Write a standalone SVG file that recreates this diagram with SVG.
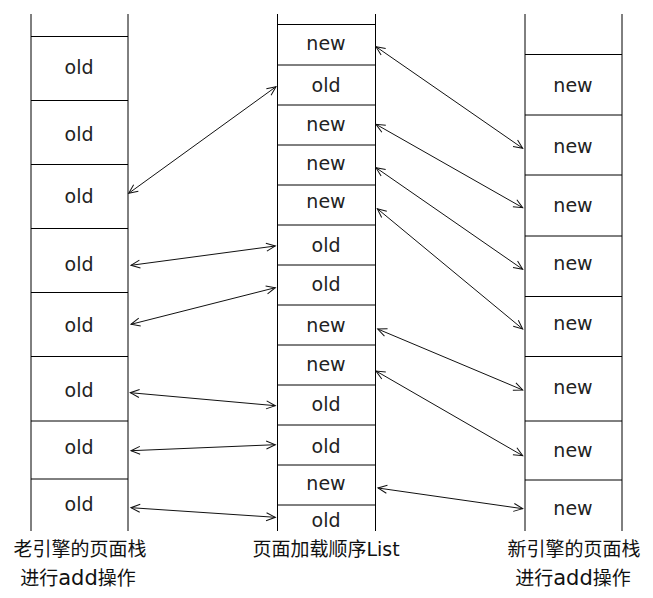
<svg xmlns="http://www.w3.org/2000/svg" width="653" height="598" viewBox="0 0 653 598">
<style>
.frame{fill:none;stroke:#000;stroke-width:1}
.cell{font-family:"DejaVu Sans","Noto Sans",sans-serif;font-size:19px;fill:#222;text-anchor:middle}
.lbl{font-family:"DejaVu Sans","Noto Sans CJK SC",sans-serif;font-size:19px;fill:#111;text-anchor:middle}
.wide{font-size:21px}
.conn{stroke:#111;stroke-width:1;fill:none;marker-start:url(#ah);marker-end:url(#ah)}
</style>
<defs>
<marker id="ah" markerUnits="userSpaceOnUse" markerWidth="12" markerHeight="12" refX="10" refY="5" orient="auto-start-reverse" viewBox="0 0 12 10">
<path d="M1,1 L10,5 L1,9" fill="none" stroke="#111" stroke-width="1"/>
</marker>
</defs>
<rect width="653" height="598" fill="#fff"/>

<g id="old-stack">
<path class="frame" d="M31,14V531M128,14V531M31,36.5H128M31,100.5H128M31,164.5H128M31,228.5H128M31,292.5H128M31,356.5H128M31,421H128M31,479H128"/>
<g id="o1"><text class="cell" x="79" y="74">old</text></g>
<g id="o2"><text class="cell" x="79" y="140.5">old</text></g>
<g id="o3"><text class="cell" x="79" y="203">old</text></g>
<g id="o4"><text class="cell" x="79" y="270.5">old</text></g>
<g id="o5"><text class="cell" x="79" y="332">old</text></g>
<g id="o6"><text class="cell" x="79" y="397">old</text></g>
<g id="o7"><text class="cell" x="79" y="454">old</text></g>
<g id="o8"><text class="cell" x="79" y="510.5">old</text></g>
<g id="old-label"><text class="lbl" x="80" y="556">老引擎的页面栈</text><text class="lbl" x="78" y="585">进行<tspan class="wide">add</tspan>操作</text></g>
</g>

<g id="load-list">
<path class="frame" d="M277.5,14V531M375.5,14V531M277.5,24.5H375.5M277.5,65H375.5M277.5,105H375.5M277.5,145H375.5M277.5,185H375.5M277.5,225H375.5M277.5,265H375.5M277.5,305H375.5M277.5,345H375.5M277.5,385H375.5M277.5,425H375.5M277.5,465H375.5M277.5,505H375.5"/>
<g id="m1"><text class="cell" x="326" y="49.5">new</text></g>
<g id="m2"><text class="cell" x="326" y="91.5">old</text></g>
<g id="m3"><text class="cell" x="326" y="130.5">new</text></g>
<g id="m4"><text class="cell" x="326" y="170">new</text></g>
<g id="m5"><text class="cell" x="326" y="207.5">new</text></g>
<g id="m6"><text class="cell" x="326" y="251.5">old</text></g>
<g id="m7"><text class="cell" x="326" y="290.5">old</text></g>
<g id="m8"><text class="cell" x="326" y="331.5">new</text></g>
<g id="m9"><text class="cell" x="326" y="371">new</text></g>
<g id="m10"><text class="cell" x="326" y="410.5">old</text></g>
<g id="m11"><text class="cell" x="326" y="453">old</text></g>
<g id="m12"><text class="cell" x="326" y="490">new</text></g>
<g id="m13"><text class="cell" x="326" y="526.5">old</text></g>
<g id="list-label"><text class="lbl" x="326" y="556">页面加载顺序List</text></g>
</g>

<g id="new-stack">
<path class="frame" d="M525,14V531M622,14V531M525,54.5H622M525,115H622M525,175H622M525,236H622M525,296.5H622M525,356.5H622M525,421H622M525,480H622"/>
<g id="n1"><text class="cell" x="573" y="92">new</text></g>
<g id="n2"><text class="cell" x="573" y="152.5">new</text></g>
<g id="n3"><text class="cell" x="573" y="211.5">new</text></g>
<g id="n4"><text class="cell" x="573" y="270">new</text></g>
<g id="n5"><text class="cell" x="573" y="330">new</text></g>
<g id="n6"><text class="cell" x="573" y="394">new</text></g>
<g id="n7"><text class="cell" x="573" y="456.5">new</text></g>
<g id="n8"><text class="cell" x="573" y="515">new</text></g>
<g id="new-label"><text class="lbl" x="574" y="556">新引擎的页面栈</text><text class="lbl" x="573" y="585">进行<tspan class="wide">add</tspan>操作</text></g>
</g>

<g id="connectors">
<line class="conn" x1="128.7" y1="193.3" x2="276" y2="86.7"/>
<line class="conn" x1="131" y1="265.3" x2="275.3" y2="246"/>
<line class="conn" x1="131" y1="324.3" x2="275.3" y2="287.7"/>
<line class="conn" x1="130.3" y1="392.7" x2="275.3" y2="405.7"/>
<line class="conn" x1="131" y1="450.7" x2="275.3" y2="444.7"/>
<line class="conn" x1="131" y1="507.7" x2="275.3" y2="517.3"/>
<line class="conn" x1="376" y1="46.7" x2="522.7" y2="148.3"/>
<line class="conn" x1="376" y1="124.3" x2="522.7" y2="207.7"/>
<line class="conn" x1="376" y1="167.7" x2="522.7" y2="269.3"/>
<line class="conn" x1="377.3" y1="208.7" x2="522.7" y2="329"/>
<line class="conn" x1="377.7" y1="329" x2="522.7" y2="390"/>
<line class="conn" x1="376" y1="371" x2="522.7" y2="455.7"/>
<line class="conn" x1="378" y1="488" x2="522.7" y2="508.7"/>
</g>
</svg>
